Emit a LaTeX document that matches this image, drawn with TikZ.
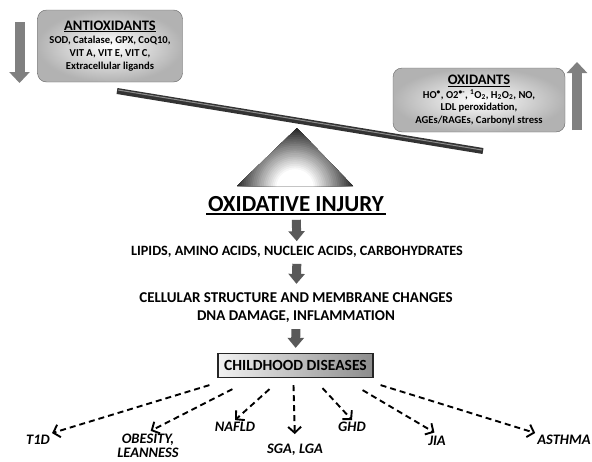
\documentclass[tikz,border=0pt]{standalone}
\usepackage{fontspec}
\setmainfont{Carlito}
\usetikzlibrary{arrows.meta,positioning,calc}

\tikzset{
  infobox/.style={draw=black!60, rounded corners=9pt, inner color=white, outer color=black!30,
    align=center, inner sep=2pt, font=\bfseries\fontsize{10.6}{12.8}\selectfont},
  steptext/.style={font=\bfseries\fontsize{14.2}{18}\selectfont, align=center, inner sep=2pt},
  disease/.style={font=\bfseries\itshape\fontsize{14.5}{13.5}\selectfont, align=center, inner sep=2pt},
  levelarrow/.style={line width=10pt, black!50, -{Triangle[width=20pt,length=11pt]}},
  bigarrow/.style={line width=9pt, black!65, -{Triangle[width=16pt,length=10pt]},
    shorten <=4pt, shorten >=3pt},
  riskarrow/.style={line width=1.9pt, dash pattern=on 6pt off 4pt,
    -{Straight Barb[length=6pt,width=13pt]}},
}

\begin{document}
\begin{tikzpicture}[x=1pt,y=-1pt]
\useasboundingbox (0,0) rectangle (592,461);

% balance
\begin{scope}
  \clip (237,186) -- (297,128) -- (353,186) -- cycle;
  \fill[black!90] (230,120) rectangle (360,190);
  \foreach \i in {0,...,24} {
    \pgfmathtruncatemacro\shadeval{90-3.75*\i}
    \fill[black!\shadeval] (295,188) circle ({62-1.8*\i});
  }
\end{scope}
\draw[line width=6pt, black!80] (117,91) -- (483,151);
\draw[line width=1pt, black!45] (118,90) -- (482,150);

\node[infobox, minimum width=145, minimum height=72] (anti) at (110,46)
  {{\fontsize{14.5}{16}\selectfont\underline{ANTIOXIDANTS}}\\[1pt]
   SOD, Catalase, GPX, CoQ10,\\ VIT A, VIT E, VIT C,\\ Extracellular ligands};
\node[infobox, minimum width=172, minimum height=64] (oxi) at (479,100)
  {{\fontsize{14.5}{16}\selectfont\underline{OXIDANTS}}\\[1pt]
   HO\textsuperscript{\textbullet}, O2\textsuperscript{\textbullet-}, \textsuperscript{1}O\textsubscript{2}, H\textsubscript{2}O\textsubscript{2}, NO,\\
   LDL peroxidation,\\ AGEs/RAGEs, Carbonyl stress};

\draw[levelarrow] (19.5,22) -- (19.5,83);
\draw[levelarrow] (577,130) -- (577,62);

% cascade
\node[font=\bfseries\fontsize{23}{26}\selectfont, inner sep=2pt] (inj) at (296,204) {OXIDATIVE INJURY};
\draw[line width=1.6pt] (inj.south west) -- (inj.south east);
\node[steptext] (mol) at (297,252) {LIPIDS, AMINO ACIDS, NUCLEIC ACIDS, CARBOHYDRATES};
\node[steptext, font=\bfseries\fontsize{15}{18}\selectfont] (cell) at (296,308)
  {CELLULAR STRUCTURE AND MEMBRANE CHANGES\\ DNA DAMAGE, INFLAMMATION};
\node[draw=black!85, line width=1.2pt, left color=black!5, right color=black!45,
  minimum width=155, minimum height=24, font=\bfseries\fontsize{15.5}{17}\selectfont] (child) at (295.5,365.5)
  {CHILDHOOD DISEASES};

\draw[bigarrow, shorten <=6pt] (inj) -- (mol);
\draw[bigarrow, shorten >=7pt] (mol) -- (cell);
\draw[bigarrow, shorten >=5pt] (cell) -- (child);

% diseases
\node[disease] (t1d) at (38,440) {T1D};
\node[disease] (obes) at (148,446) {OBESITY,\\ LEANNESS};
\node[disease] (nafld) at (235,427) {NAFLD};
\node[disease] (sga) at (295,450) {SGA, LGA};
\node[disease] (ghd) at (352,427) {GHD};
\node[disease] (jia) at (437,441) {JIA};
\node[disease] (asthma) at (564,440) {ASTHMA};

\draw[riskarrow] ($(child.south west)+(-8,7)$) -- (t1d.north east);
\draw[riskarrow, shorten >=3pt] ($(child.south west)+(15,11)$) -- (obes.north);
\draw[riskarrow] ($(child.south)+(-26,11)$) -- (nafld.north);
\draw[riskarrow, shorten >=8pt] ($(child.south)+(-2,7)$) -- (sga.north);
\draw[riskarrow] ($(child.south)+(27,10)$) -- (ghd.north);
\draw[riskarrow, shorten >=3pt] ($(child.south east)+(-11,12)$) -- (jia.north);
\draw[riskarrow] ($(child.south east)+(7,7)$) -- (asthma.north west);

\end{tikzpicture}
\end{document}
